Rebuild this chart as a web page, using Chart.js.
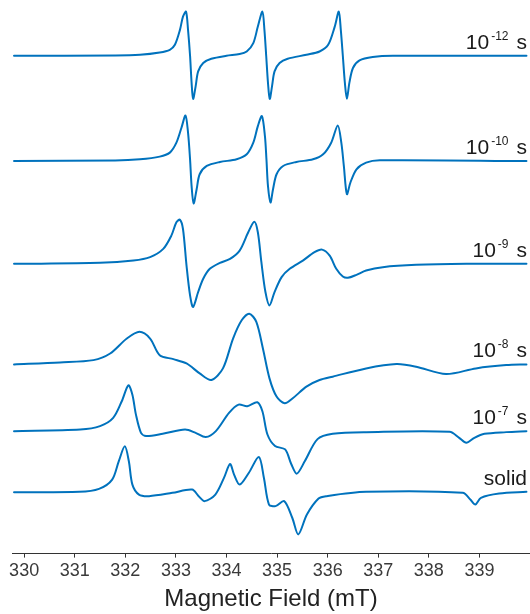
<!DOCTYPE html>
<html><head><meta charset="utf-8">
<script src="https://cdn.jsdelivr.net/npm/chart.js@4/dist/chart.umd.min.js"></script>
<style>html,body{margin:0;padding:0;background:#fff}</style>
</head><body>
<canvas id="c" width="530" height="614"></canvas>
<script>
// ---- data ----
const xTicks = [330, 331, 332, 333, 334, 335, 336, 337, 338, 339];
const labelExps = ['-12', '-10', '-9', '-8', '-7', null];
const labelWords = ['s', 's', 's', 's', 's', 'solid'];
const offsets = [500, 394.3, 291, 190, 123, 61.5];

const fields12 = [329.80, 331.80, 332.29, 332.68, 332.88, 332.98, 333.08, 333.14, 333.20, 333.24, 333.28, 333.31, 333.34, 333.39, 333.44, 333.54, 333.70, 334.00, 334.26, 334.40, 334.53, 334.62, 334.71, 334.75, 334.785, 334.82, 334.855, 334.90, 334.95, 335.05, 335.21, 335.58, 335.84, 336.01, 336.14, 336.22, 336.26, 336.30, 336.34, 336.38, 336.43, 336.50, 336.63, 336.89, 337.29, 339.93];
const int12 = [0, 0.3, 1, 3.3, 6, 11, 26, 39.3, 44.3, 26, 0, -27, -43.3, -30.7, -15.7, -7.3, -3, 0, 1.7, 4.3, 12.7, 29.3, 44.3, 26, 0, -27, -43.3, -30.7, -15.7, -7.3, -3, 1, 4.3, 11, 29.3, 44.3, 26, 0, -27, -43.3, -27, -12.3, -4.7, -1.3, 0, 0];

const fields10 = [329.80, 331.80, 332.29, 332.68, 332.88, 333.01, 333.11, 333.19, 333.24, 333.28, 333.31, 333.35, 333.41, 333.47, 333.61, 333.87, 334.20, 334.40, 334.53, 334.62, 334.70, 334.76, 334.79, 334.82, 334.87, 334.92, 334.99, 335.12, 335.38, 335.71, 335.91, 336.07, 336.20, 336.27, 336.32, 336.38, 336.45, 336.57, 336.76, 337.03, 339.93];
const int10 = [0, 0.5, 1.7, 4.4, 8.4, 18.4, 33.4, 45.7, 28.4, 1.7, -25, -42.6, -28.3, -13.3, -5, -1, 1.7, 6.7, 18.4, 35, 45, 25, 1.7, -25, -41.6, -28.3, -13.3, -5, -1, 1.7, 6.7, 18.4, 35.7, 18.4, -5, -33.3, -21.6, -8.3, -1.6, 0.7, 0];

const fields9 = [329.80, 331.50, 332.16, 332.49, 332.75, 332.91, 333.01, 333.08, 333.14, 333.21, 333.28, 333.34, 333.44, 333.54, 333.67, 333.87, 334.07, 334.26, 334.43, 334.55, 334.62, 334.69, 334.77, 334.85, 334.95, 335.09, 335.25, 335.51, 335.74, 335.89, 336.04, 336.17, 336.30, 336.40, 336.57, 336.76, 337.09, 337.75, 338.74, 339.93];
const int9 = [0, 1, 3.3, 6.7, 15, 28.3, 41.7, 44.3, 35, -1.7, -31.7, -43.3, -28.3, -15, -5, 1, 5, 13.3, 31.7, 42.3, 31.7, 1.7, -28.3, -41.7, -28.3, -13.3, -5, 3.3, 11.7, 14.3, 8.3, -5, -12.7, -14, -11, -6.7, -3.3, -1, 0, 0];

const fields8 = [329.80, 330.71, 331.37, 331.70, 332.03, 332.28, 332.49, 332.68, 332.95, 333.21, 333.47, 333.70, 333.93, 334.13, 334.30, 334.45, 334.59, 334.72, 334.85, 334.99, 335.15, 335.31, 335.58, 335.84, 336.10, 336.76, 337.36, 337.75, 338.34, 338.93, 339.53, 339.93];
const int8 = [0, 2, 4.3, 11, 26, 32.7, 26, 9.3, 5.3, 1, -9, -15.7, -4, 26, 44.3, 51, 42.7, 16, -14, -32.3, -39, -34, -22.3, -15.7, -12.3, -4, 0.3, -2.3, -9.7, -4, -0.7, 0];

const fields7 = [329.80, 331.11, 331.50, 331.76, 331.93, 332.06, 332.14, 332.21, 332.31, 332.41, 332.74, 333.18, 333.39, 333.59, 333.79, 334.05, 334.24, 334.41, 334.61, 334.71, 334.81, 334.96, 335.16, 335.28, 335.39, 335.55, 335.80, 336.10, 336.76, 338.41, 338.60, 338.74, 338.90, 339.10, 339.53, 339.93];
const int7 = [0, 1.6, 5, 13.3, 30, 46, 36.6, 16.6, -1.7, -5, -2.7, 1.6, -1.7, -6, 0, 18.3, 26.6, 25, 29, 20, -3.4, -15, -18.4, -33, -42.7, -30, -8, -2.7, -1, -0.7, -6.7, -11.7, -6.7, -2.7, -1, 0];

const fieldsSolid = [329.80, 331.09, 331.48, 331.74, 331.87, 331.99, 332.07, 332.14, 332.27, 332.47, 332.93, 333.32, 333.45, 333.57, 333.78, 333.95, 334.07, 334.15, 334.26, 334.44, 334.64, 334.74, 334.84, 334.97, 335.14, 335.30, 335.42, 335.59, 335.82, 335.97, 336.76, 338.67, 338.82, 338.92, 339.03, 339.39, 339.93];
const intSolid = [0, 0.5, 3.5, 12.8, 31.2, 46.2, 31.2, 7.8, -2.2, -3.8, -0.5, 2.8, -3.8, -8.8, -2.2, 14.5, 28.5, 17.8, 7.8, 19.5, 35.5, 14.5, -12.2, -13.8, -8.8, -25.5, -42.2, -22.2, -6.2, -3.8, 0.5, -0.5, -7.2, -12.2, -5.5, -1.2, 0.5];

const allFields = [fields12, fields10, fields9, fields8, fields7, fieldsSolid];
const allInts = [int12, int10, int9, int8, int7, intSolid];

// ---- chart ----
const FONT = "'Liberation Sans', Arial, sans-serif";
const LINE = '#0072BD';

const datasets = allFields.map((fx, i) => ({
  data: fx.map((x, k) => ({ x: x, y: allInts[i][k] + offsets[i] })),
  borderColor: LINE,
  borderWidth: 2,
  pointRadius: 0,
  fill: false,
  tension: 0.3,
  borderJoinStyle: 'round',
  borderCapStyle: 'round'
}));

const labelPlugin = {
  id: 'specLabels',
  afterDatasetsDraw(chart) {
    const ctx = chart.ctx;
    const ys = chart.scales.y;
    const right = 527;
    ctx.save();
    ctx.fillStyle = '#1a1a1a';
    ctx.textBaseline = 'alphabetic';
    ctx.textAlign = 'right';
    offsets.forEach((off, i) => {
      const by = ys.getPixelForValue(off) - 7;
      const mainFont = '21px ' + FONT;
      const supFont = '12px ' + FONT;
      ctx.font = mainFont;
      ctx.fillText(labelWords[i], right, by);
      if (labelExps[i] === null) return;
      let x = right - ctx.measureText(labelWords[i]).width - 8;
      ctx.font = supFont;
      ctx.fillText(labelExps[i], x, by - 9);
      x -= ctx.measureText(labelExps[i]).width + 2;
      ctx.font = mainFont;
      ctx.fillText('10', x, by);
    });
    ctx.restore();
  }
};

new Chart(document.getElementById('c'), {
  type: 'line',
  data: { datasets: datasets },
  plugins: [labelPlugin],
  options: {
    responsive: false,
    animation: false,
    events: [],
    layout: { padding: { left: 12, right: 0, top: 0, bottom: 0 } },
    plugins: { legend: { display: false }, tooltip: { enabled: false } },
    scales: {
      x: {
        type: 'linear',
        min: 329.76,
        max: 340.0,
        afterBuildTicks: (scale) => { scale.ticks = xTicks.map(v => ({ value: v })); },
        ticks: {
          autoSkip: false,
          maxRotation: 0,
          padding: 3,
          color: '#3a3a3a',
          font: { family: FONT, size: 18 },
          callback: (v) => String(v)
        },
        grid: { display: true, drawOnChartArea: false, drawTicks: true, tickLength: 4, color: '#333', lineWidth: 1 },
        border: { display: true, color: '#333', width: 1 },
        title: { display: true, text: 'Magnetic Field (mT)', color: '#222', font: { family: FONT, size: 24 }, padding: { top: 0, bottom: 0 } }
      },
      y: { display: false, min: 0, max: 556 }
    }
  }
});
</script>
</body></html>
